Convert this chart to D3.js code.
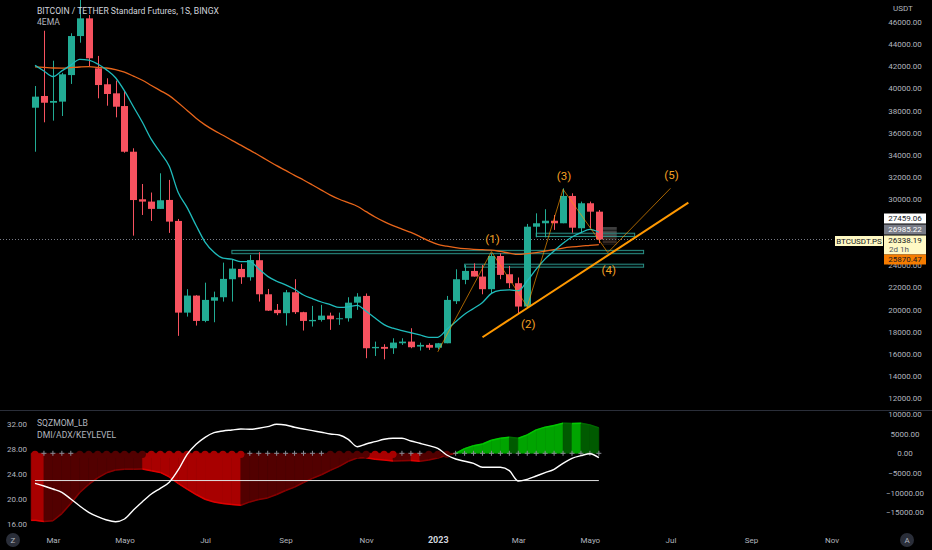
<!DOCTYPE html>
<html>
<head>
<meta charset="utf-8">
<script src="https://cdn.jsdelivr.net/npm/d3@7"></script>
<style>
  html, body { margin: 0; background: #000; }
  svg { display: block; font-family: Roboto, 'Noto Sans', sans-serif; }
</style>
</head>
<body>
<svg id="chart" width="932" height="550"></svg>
<script>
// weekly candles (1S = 1 semana), BTC/USDT perpetual on BingX
const weeks = [
  '2022-02-21', '2022-02-28', '2022-03-07', '2022-03-14', '2022-03-21', '2022-03-28', '2022-04-04', '2022-04-11',
  '2022-04-18', '2022-04-25', '2022-05-02', '2022-05-09', '2022-05-16', '2022-05-23', '2022-05-30', '2022-06-06',
  '2022-06-13', '2022-06-20', '2022-06-27', '2022-07-04', '2022-07-11', '2022-07-18', '2022-07-25', '2022-08-01',
  '2022-08-08', '2022-08-15', '2022-08-22', '2022-08-29', '2022-09-05', '2022-09-12', '2022-09-19', '2022-09-26',
  '2022-10-03', '2022-10-10', '2022-10-17', '2022-10-24', '2022-10-31', '2022-11-07', '2022-11-14', '2022-11-21',
  '2022-11-28', '2022-12-05', '2022-12-12', '2022-12-19', '2022-12-26', '2023-01-02', '2023-01-09', '2023-01-16',
  '2023-01-23', '2023-01-30', '2023-02-06', '2023-02-13', '2023-02-20', '2023-02-27', '2023-03-06', '2023-03-13',
  '2023-03-20', '2023-03-27', '2023-04-03', '2023-04-10', '2023-04-17', '2023-04-24', '2023-05-01', '2023-05-08'
]
const open = [
  38250, 39310, 38700, 38800, 41200, 44730, 46330, 41810, 40370, 39550, 38400, 34270, 29970, 29760, 29100, 29910,
  28010, 19720, 21260, 18970, 20800, 21110, 22740, 23670, 22920, 24460, 21380, 19970, 19670, 21560, 19760, 18940,
  19060, 19450, 19120, 19210, 20620, 21230, 16500, 16620, 16500, 16950, 17100, 16650, 16800, 16550, 16950, 20750,
  22680, 23490, 22980, 21840, 24840, 23190, 22380, 20270, 27490, 27800, 28030, 27800, 30270, 27350, 29610, 28850
]
const high = [
  40210, 45210, 42500, 41400, 44980, 48200, 46630, 42930, 40910, 40700, 39760, 34580, 31350, 30580, 32320, 31720,
  28190, 21840, 21300, 22430, 21620, 24240, 24480, 24120, 24940, 25180, 21860, 20500, 21770, 22740, 19800, 20330,
  20420, 19720, 19720, 21110, 21480, 21450, 17100, 16860, 17400, 17400, 18310, 17010, 16950, 16980, 21230, 23640,
  24030, 24180, 24030, 25090, 25090, 23940, 22900, 27740, 28700, 29070, 28550, 30960, 30510, 29760, 29760, 29000
]
const low = [
  34270, 36930, 37080, 37500, 40400, 44130, 42020, 39100, 38430, 37380, 34180, 26680, 28550, 28010, 29100, 26930,
  17620, 19360, 18550, 18850, 18850, 20720, 20720, 22320, 22610, 20720, 19870, 19490, 18550, 19600, 18100, 18460,
  18910, 18160, 18610, 18910, 19970, 15600, 15800, 15500, 15990, 16800, 16500, 16290, 16350, 16400, 16950, 20500,
  22290, 22980, 21380, 21470, 22740, 21930, 19600, 20210, 26530, 26530, 27200, 27800, 26950, 26950, 27350, 26000
]
const close = [
  39250, 38700, 38860, 41270, 44730, 46330, 42720, 40300, 39490, 38340, 34270, 29900, 29760, 29100, 29880, 27950,
  19720, 21260, 18970, 20870, 21110, 22770, 23700, 22920, 24480, 21380, 19900, 19670, 21560, 19760, 18970, 19060,
  19450, 19120, 19210, 20620, 21170, 16500, 16620, 16450, 17010, 17100, 16590, 16800, 16550, 16950, 20870, 22740,
  23490, 22980, 21840, 24840, 23130, 22380, 20270, 27490, 27800, 28030, 27800, 30270, 27400, 29610, 28850, 26338.19
]
// 4EMA: the two averages that are visible
const emaFast = [
  42080, 41570, 41070, 41580, 42100, 42620, 42550, 42200, 41670, 40960, 39770, 38340, 36930, 35380, 34200, 32950,
  30580, 29210, 27600, 26100, 25170, 24640, 24550, 24330, 24330, 23670, 23000, 22560, 22230, 21830, 21310, 20990,
  20680, 20440, 20190, 20240, 20380, 19850, 19240, 18640, 18310, 18100, 17900, 17700, 17490, 17490, 18190, 18900,
  19580, 20100, 20640, 21460, 21740, 21780, 21700, 22600, 23650, 24580, 25300, 26000, 26560, 26950, 27250, 26990
]
const emaSlow = [
  41950, 41900, 41840, 41830, 41880, 41930, 41960, 41900, 41840, 41700, 41460, 41110, 40730, 40260, 39800, 39340,
  38700, 38000, 37300, 36700, 36200, 35760, 35300, 34860, 34420, 33950, 33480, 33010, 32580, 32130, 31710, 31260,
  30800, 30350, 29970, 29660, 29340, 28850, 28370, 27950, 27580, 27270, 26970, 26600, 26200, 25890, 25730, 25600,
  25500, 25440, 25410, 25380, 25250, 25100, 24980, 25050, 25150, 25280, 25420, 25560, 25660, 25740, 25800, 25870
]
// SQZMOM_LB momentum and DMI/ADX
const momentum = [
  -17100, -17400, -17200, -15380, -12820, -10000, -7950, -6250, -4970, -4280, -4050, -4050, -4000, -4450, -4870, -6000,
  -7690, -9150, -10520, -11720, -12400, -12820, -13080, -13250, -12400, -11800, -11380, -10520, -9490, -8630, -7440, -6410,
  -5480, -4360, -3330, -2050, -1200, -1150, -1500, -1700, -1950, -1900, -1850, -2000, -1700, -1200, -500, 0,
  1200, 1950, 2380, 3330, 3850, 4100, 3850, 4700, 5970, 6670, 7080, 7690, 7600, 7690, 7250, 6480
]
const adx = [
  22.56, 22.13, 21.65, 21.12, 20.05, 18.93, 17.92, 17.22, 16.69, 16.42, 16.85, 18.29, 19.62, 20.85, 21.76, 22.72,
  24.69, 27.2, 28.8, 29.92, 30.66, 30.93, 31.09, 31.25, 31.2, 31.36, 31.62, 32.0, 31.89, 31.52, 31.25, 30.98,
  30.72, 30.45, 30.29, 29.6, 28.42, 28.85, 29.22, 29.6, 29.76, 29.76, 29.33, 28.96, 28.58, 28.16, 27.09, 26.45,
  26.08, 25.76, 25.12, 25.12, 25.12, 24.58, 22.93, 23.2, 23.73, 24.26, 24.8, 25.76, 26.56, 26.98, 27.3, 26.66
]
const keyLevel = 23
// weeks whose squeeze dot shows as a grey cross
const crossWeeks = [1, 2, 3, 4, 24, 25, 26, 27, 28, 29, 30, 31, 32, 41, 42, 43, 47, 48, 49, 50, 51, 52, 53, 54, 55,
  56, 57, 58, 59, 60, 61, 62, 63]

// drawings: Elliott count, trend line, zones
const waveDates = ['2023-01-02', '2023-02-13', '2023-03-13', '2023-04-10', '2023-05-15', '2023-07-03']
const wavePrices = [16170, 25240, 20260, 30870, 25150, 30960]
const waveLabels = ['', '(1)', '(2)', '(3)', '(4)', '(5)']
const trendDates = ['2023-02-06', '2023-07-17']
const trendPrices = [17490, 29660]
const zoneStart = ['2022-07-25', '2023-01-23', '2023-03-20']
const zoneEnd = ['2023-06-12', '2023-06-12', '2023-06-05']
const zoneLow = [25050, 23830, 26600]
const zoneHigh = [25350, 24100, 26900]
const profileDates = ['2023-05-11', '2023-05-22']
const profileLevels = [27460, 27150, 26850, 26550, 26250, 25950, 25830]

const priceTicks = [12000, 14000, 16000, 18000, 20000, 22000, 24000, 26000, 28000, 30000, 32000, 34000, 36000,
  38000, 40000, 42000, 44000, 46000]
const adxTicks = [16, 20, 24, 28, 32]
const momTicks = [-15000, -10000, -5000, 0, 5000, 10000]
const monthDates = ['2022-03-07', '2022-05-02', '2022-07-04', '2022-09-05', '2022-11-07', '2023-01-02', '2023-03-06',
  '2023-05-01', '2023-07-03', '2023-09-04', '2023-11-06']
const monthLabels = ['Mar', 'Mayo', 'Jul', 'Sep', 'Nov', '2023', 'Mar', 'Mayo', 'Jul', 'Sep', 'Nov']

const tagPrices = [27459.06, 26985.22, 26338.19, 25870.47]
const lastPrice = 26338.19

const UP = '#22ab94'
const DOWN = '#f7525f'
const AXIS = '#b2b5be'

const parse = d3.utcParse('%Y-%m-%d')
const svg = d3.select('#chart')
svg.append('rect').attr('width', 932).attr('height', 550).attr('fill', '#000')

const x = d3.scaleUtc()
  .domain([parse(weeks[0]), parse(weeks[weeks.length - 1])])
  .range([35, 35 + 8.95 * (weeks.length - 1)])
const y = d3.scaleLinear().domain([12000, 46000]).range([398, 22])
const yAdx = d3.scaleLinear().domain([16, 32]).range([524.3, 424.3])
const yMom = d3.scaleLinear().domain([-15000, 10000]).range([512.1, 414.1])

const defs = svg.append('defs')
defs.append('clipPath').attr('id', 'clip-main')
  .append('rect').attr('x', 0).attr('y', 0).attr('width', 882).attr('height', 409)
defs.append('clipPath').attr('id', 'clip-ind')
  .append('rect').attr('x', 0).attr('y', 412).attr('width', 882).attr('height', 116)

const main = svg.append('g').attr('clip-path', 'url(#clip-main)')
const ind = svg.append('g').attr('clip-path', 'url(#clip-ind)')

const candles = weeks.map((w, i) => ({ date: parse(w), o: open[i], h: high[i], l: low[i], c: close[i] }))
const cx = d => Math.round(x(d.date))

/**
 * Zones (thin teal rectangles) and the small grey profile block.
 */
function drawZones () {
  const zones = zoneStart.map((s, i) => ({ s: parse(s), e: parse(zoneEnd[i]), lo: zoneLow[i], hi: zoneHigh[i] }))
  main.selectAll('rect.zone')
    .data(zones)
    .join('rect')
    .attr('class', 'zone')
    .attr('x', d => x(d.s))
    .attr('width', d => x(d.e) - x(d.s))
    .attr('y', d => y(d.hi))
    .attr('height', d => y(d.lo) - y(d.hi))
    .attr('fill', 'rgba(38,166,154,0.10)')
    .attr('stroke', '#2a8f86')
    .attr('stroke-width', 1)

  const rows = d3.pairs(profileLevels)
  main.selectAll('rect.profile')
    .data(rows)
    .join('rect')
    .attr('class', 'profile')
    .attr('x', x(parse(profileDates[0])))
    .attr('width', x(parse(profileDates[1])) - x(parse(profileDates[0])))
    .attr('y', d => y(d[0]))
    .attr('height', d => y(d[1]) - y(d[0]) - 0.6)
    .attr('fill', (d, i) => i < 3 ? 'rgba(150,150,150,0.42)' : 'rgba(125,95,80,0.42)')
}

/**
 * Candles and the two moving averages.
 */
function drawCandles () {
  main.append('line')
    .attr('x1', 0).attr('x2', 833)
    .attr('y1', Math.round(y(lastPrice)) + 0.5).attr('y2', Math.round(y(lastPrice)) + 0.5)
    .attr('stroke', '#787b86')
    .attr('stroke-dasharray', '1,2')

  main.selectAll('line.wick')
    .data(candles)
    .join('line')
    .attr('class', 'wick')
    .attr('x1', d => cx(d) + 0.5).attr('x2', d => cx(d) + 0.5)
    .attr('y1', d => y(d.h)).attr('y2', d => y(d.l))
    .attr('stroke', d => d.c >= d.o ? UP : DOWN)

  main.selectAll('rect.body')
    .data(candles)
    .join('rect')
    .attr('class', 'body')
    .attr('x', d => cx(d) - 3)
    .attr('width', 7)
    .attr('y', d => y(Math.max(d.o, d.c)))
    .attr('height', d => Math.max(1, Math.abs(y(d.o) - y(d.c))))
    .attr('fill', d => d.c >= d.o ? UP : DOWN)

  const emaLine = vals => d3.line()
    .x((d, i) => x(parse(weeks[i])))
    .y(d => y(d))
    .curve(d3.curveMonotoneX)(vals)

  main.append('path').attr('d', emaLine(emaSlow))
    .attr('fill', 'none').attr('stroke', '#e8651a').attr('stroke-width', 1.3)
  main.append('path').attr('d', emaLine(emaFast))
    .attr('fill', 'none').attr('stroke', '#1fbcbc').attr('stroke-width', 1.3)
}

/**
 * Elliott wave count and the rising trend line.
 */
function drawWaves () {
  const pts = waveDates.map((d, i) => [x(parse(d)), y(wavePrices[i])])
  main.append('path')
    .attr('d', d3.line()(pts))
    .attr('fill', 'none')
    .attr('stroke', '#ff9800')
    .attr('stroke-opacity', 0.65)
    .attr('stroke-width', 1)

  main.append('line')
    .attr('x1', x(parse(trendDates[0]))).attr('y1', y(trendPrices[0]))
    .attr('x2', x(parse(trendDates[1]))).attr('y2', y(trendPrices[1]))
    .attr('stroke', '#ff9800')
    .attr('stroke-width', 2)

  main.selectAll('text.wave')
    .data(pts.slice(1))
    .join('text')
    .attr('class', 'wave')
    .attr('x', d => d[0] + 1)
    .attr('y', (d, i) => i % 2 === 0 ? d[1] - 9 : d[1] + 21)
    .attr('text-anchor', 'middle')
    .attr('fill', '#f5a023')
    .attr('font-size', 11.5)
    .text((d, i) => waveLabels[i + 1])
}

/**
 * Squeeze momentum area, squeeze dots, ADX and key level.
 */
function drawIndicator () {
  const m = momentum.map((v, i) => ({ date: parse(weeks[i]), v, prev: i ? momentum[i - 1] : v + 1 }))
  const fillOf = d => d.v > 0 ? (d.v > d.prev ? '#00a400' : '#005a00') : (d.v < d.prev ? '#a80000' : '#520000')
  const lineOf = d => d.v > 0 ? (d.v > d.prev ? '#00c800' : '#006a00') : (d.v < d.prev ? '#e00000' : '#8a0000')
  const y0 = yMom(0)

  const segs = m.map((d, i) => {
    const a = i ? m[i - 1] : { date: d3.utcDay.offset(d.date, -3), v: d.v }
    return { a, b: d, fill: fillOf(d), line: lineOf(d) }
  })

  ind.selectAll('path.mom')
    .data(segs)
    .join('path')
    .attr('class', 'mom')
    .attr('d', s => `M${x(s.a.date)},${y0}L${x(s.a.date)},${yMom(s.a.v)}L${x(s.b.date)},${yMom(s.b.v)}L${x(s.b.date)},${y0}Z`)
    .attr('fill', s => s.fill)
    .attr('stroke', s => s.fill)
    .attr('stroke-width', 0.6)

  ind.selectAll('line.momedge')
    .data(segs)
    .join('line')
    .attr('class', 'momedge')
    .attr('x1', s => x(s.a.date)).attr('y1', s => yMom(s.a.v))
    .attr('x2', s => x(s.b.date)).attr('y2', s => yMom(s.b.v))
    .attr('stroke', s => s.line)
    .attr('stroke-width', 1.5)

  // squeeze dots on the zero line
  const dots = m.map((d, i) => ({ d, i, cross: crossWeeks.includes(i), fill: fillOf(d) }))
  ind.selectAll('circle.sq')
    .data(dots.filter(d => !d.cross))
    .join('circle')
    .attr('class', 'sq')
    .attr('cx', d => x(d.d.date))
    .attr('cy', y0 + 1)
    .attr('r', 3.6)
    .attr('fill', d => d.fill)
  ind.selectAll('path.cross')
    .data(dots.filter(d => d.cross))
    .join('path')
    .attr('class', 'cross')
    .attr('d', d => {
      const px = x(d.d.date)
      return `M${px - 2.5},${y0}H${px + 2.5}M${px},${y0 - 2.5}V${y0 + 2.5}`
    })
    .attr('stroke', '#8a8d96')
    .attr('stroke-width', 1)

  ind.append('line')
    .attr('x1', x(parse(weeks[0]))).attr('x2', x(parse(weeks[weeks.length - 1])))
    .attr('y1', yAdx(keyLevel)).attr('y2', yAdx(keyLevel))
    .attr('stroke', '#e0e0e0')
    .attr('stroke-width', 1)

  ind.append('path')
    .attr('d', d3.line()
      .x((d, i) => x(parse(weeks[i])))
      .y(d => yAdx(d))
      .curve(d3.curveMonotoneX)(adx))
    .attr('fill', 'none')
    .attr('stroke', '#ffffff')
    .attr('stroke-width', 1.4)
}

/**
 * Axes, legends and price tags.
 */
function drawAxes () {
  const minus = s => s.replace('-', '\u2212')
  const styleAxis = g => {
    g.select('.domain').remove()
    g.selectAll('text').attr('fill', AXIS).attr('font-size', 8).attr('font-family', 'Roboto, sans-serif')
  }

  const priceAxis = svg.append('g')
    .attr('transform', 'translate(905,0)')
    .call(d3.axisRight(y).tickValues(priceTicks).tickSize(0).tickPadding(0).tickFormat(d3.format('.2f')))
    .call(styleAxis)
  priceAxis.selectAll('text').attr('text-anchor', 'middle')

  svg.append('g')
    .attr('transform', 'translate(905,0)')
    .call(d3.axisRight(yMom).tickValues(momTicks).tickSize(0).tickPadding(0).tickFormat(d => minus(d3.format('.2f')(d))))
    .call(styleAxis)
    .selectAll('text').attr('text-anchor', 'middle')

  svg.append('g')
    .attr('transform', 'translate(17,0)')
    .call(d3.axisLeft(yAdx).tickValues(adxTicks).tickSize(0).tickPadding(0).tickFormat(d3.format('.2f')))
    .call(styleAxis)
    .selectAll('text').attr('text-anchor', 'middle')

  const xAxis = svg.append('g')
    .attr('transform', 'translate(0,534)')
    .call(d3.axisBottom(x).tickValues(monthDates.map(parse)).tickSize(0).tickPadding(3)
      .tickFormat((d, i) => monthLabels[i]))
    .call(styleAxis)
  xAxis.selectAll('text')
    .filter((d, i) => monthLabels[i] === '2023')
    .attr('fill', '#d1d4dc')
    .attr('font-weight', 'bold')
    .attr('font-size', 9)

  svg.append('text').attr('x', 893).attr('y', 11).attr('fill', AXIS).attr('font-size', 8).text('USDT')

  // pane separator
  svg.append('line').attr('x1', 0).attr('x2', 932).attr('y1', 410.5).attr('y2', 410.5)
    .attr('stroke', '#2a2e39')

  const legend = [
    ['BITCOIN / TETHER Standard Futures, 1S, BINGX', 13.5, '#d1d4dc'],
    ['4EMA', 25, '#b2b5be'],
    ['SQZMOM_LB', 426, '#b2b5be'],
    ['DMI/ADX/KEYLEVEL', 437.5, '#b2b5be']
  ]
  svg.selectAll('text.legend')
    .data(legend)
    .join('text')
    .attr('class', 'legend')
    .attr('x', 37)
    .attr('y', d => d[1])
    .attr('fill', d => d[2])
    .attr('font-size', 8.6)
    .text(d => d[0])

  // price tags stacked around the last price
  const tagStyle = [
    { bg: '#ffffff', fg: '#131722', h: 10 },
    { bg: '#787b86', fg: '#ffffff', h: 10 },
    { bg: '#fff9c4', fg: '#131722', h: 19 },
    { bg: '#f57c00', fg: '#131722', h: 10 }
  ]
  const tops = []
  tops[2] = Math.round(y(lastPrice)) - 3.5
  tops[1] = tops[2] - 1 - tagStyle[1].h
  tops[0] = tops[1] - 1 - tagStyle[0].h
  tops[3] = tops[2] + tagStyle[2].h

  // axis labels sitting under an opaque tag are hidden, as on the platform
  const covered = v => {
    const ty = y(v)
    return tops.some((t, i) => ty > t - 2 && ty < t + tagStyle[i].h - 1)
  }
  priceAxis.selectAll('.tick').filter(d => covered(d)).remove()

  const tags = svg.selectAll('g.tag')
    .data(tagPrices)
    .join('g')
    .attr('class', 'tag')
    .attr('transform', (d, i) => `translate(884,${tops[i]})`)
  tags.append('rect')
    .attr('width', 42)
    .attr('height', (d, i) => tagStyle[i].h)
    .attr('fill', (d, i) => tagStyle[i].bg)
  tags.append('text')
    .attr('x', 21).attr('y', 7.8)
    .attr('text-anchor', 'middle')
    .attr('font-size', 8)
    .attr('fill', (d, i) => tagStyle[i].fg)
    .text(d => d3.format('.2f')(d))
  tags.filter((d, i) => i === 2)
    .append('text')
    .attr('x', 5).attr('y', 16.5)
    .attr('font-size', 8)
    .attr('fill', '#50535e')
    .text('2d 1h')

  const sym = svg.append('g').attr('transform', `translate(835,${tops[2] + 0.5})`)
  sym.append('rect').attr('width', 48).attr('height', 10).attr('fill', '#fff9c4')
  sym.append('text').attr('x', 24).attr('y', 7.8).attr('text-anchor', 'middle')
    .attr('font-size', 8).attr('fill', '#131722').text('BTCUSDT.PS')

  const badges = [['Z', 13], ['A', 907]]
  const b = svg.selectAll('g.badge').data(badges).join('g')
    .attr('class', 'badge')
    .attr('transform', d => `translate(${d[1]},540)`)
  b.append('circle').attr('r', 7).attr('fill', '#2a2e39')
  b.append('text').attr('y', 3).attr('text-anchor', 'middle').attr('font-size', 8).attr('fill', AXIS).text(d => d[0])
}

drawZones()
drawCandles()
drawWaves()
drawIndicator()
drawAxes()
</script>
</body>
</html>
